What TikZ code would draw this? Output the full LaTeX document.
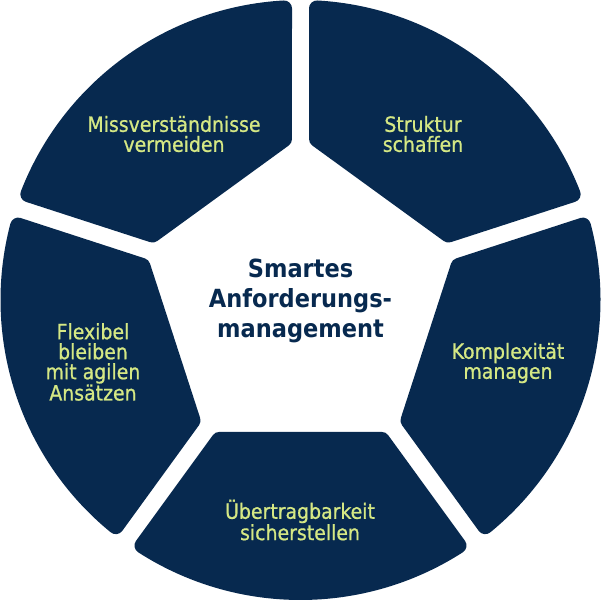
\documentclass[tikz,border=0pt]{standalone}
\usepackage{xcolor}
\usepackage{fontspec}
\setmainfont{DejaVu Sans Condensed}
\newfontfamily\medfont{DejaVu Sans Condensed}[FakeBold=0.8]
\usepackage{tikz}
\usetikzlibrary{positioning}
\definecolor{navy}{HTML}{07294F}
\definecolor{lime}{HTML}{D5E884}

\begin{document}
\begin{tikzpicture}[x=1pt, y=1pt,
    segpiece/.style={fill=navy, draw=navy, line width=16pt, line join=round},
    seglabel/.style={text=lime, align=center, font=\medfont\fontsize{21}{20}\selectfont},
    coretext/.style={text=navy, align=center, font=\bfseries\fontsize{25}{30}\selectfont}]
    \useasboundingbox (0,0) rectangle (601,600);

    % Five ring pieces round the pentagon
    \foreach \rot in {36, 108, 180, 252, -36}
        \path[segpiece, shift={(300.5,300)}, rotate=\rot]
            (81.2,139.9) -- (57.24:292) arc[start angle=57.24, end angle=122.76, radius=292]
            -- (-81.2,139.9) -- cycle;

    % Labels
    \node[seglabel] (avoid) at (174,466) {Missverständnisse\\vermeiden};
    \node[seglabel] (struct) at (423,466) {Struktur\\schaffen};
    \node[seglabel] (flex) at (93,238) {Flexibel\\bleiben\\mit agilen\\Ansätzen};
    \node[seglabel] (complex) at (508,237) {Komplexität\\managen};
    \node[seglabel] (transfer) at (300,80) {Übertragbarkeit\\sicherstellen};
    \node[coretext] (core) at (300.5,299) {Smartes\\Anforderungs-\\management};
\end{tikzpicture}
\end{document}
